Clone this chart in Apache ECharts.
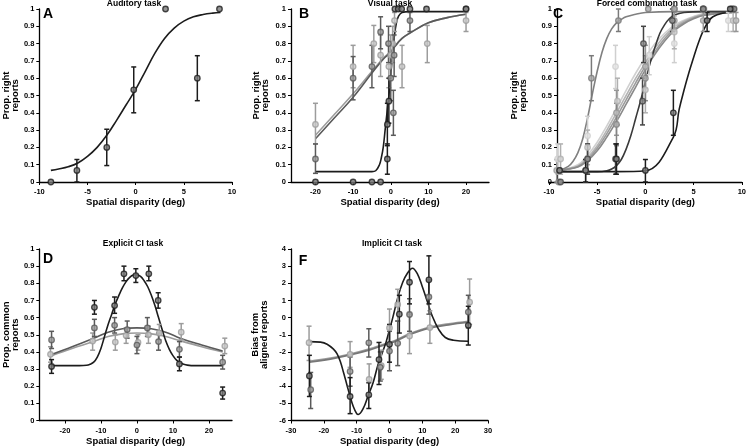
<!DOCTYPE html>
<html><head><meta charset="utf-8">
<script src="https://cdn.jsdelivr.net/npm/echarts@6/dist/echarts.min.js"></script>
<style>html,body{margin:0;padding:0;background:#fff}#c{width:749px;height:447px}</style>
</head><body><div id="c"></div>
<script>
// ---------- Panel A: Auditory task ----------
const aX  = [-8.8, -6.1, -3.0, -0.2, 3.1, 6.4, 8.7];
const aY  = [0, 0.067, 0.2, 0.533, 1, 0.6, 1];
const aLo = [null, 0, 0.095, 0.40, null, 0.47, null];
const aHi = [null, 0.13, 0.305, 0.665, null, 0.73, null];
const aFitX = [-8.8,-8,-7,-6,-5,-4,-3,-2,-1,0,1,2,3,4,5,6,7,8,8.8];
const aFitY = [0.067,0.075,0.088,0.11,0.148,0.2,0.27,0.355,0.445,0.535,0.64,0.745,0.83,0.89,0.93,0.955,0.968,0.976,0.98];

// ---------- Panel B: Visual task ----------
const bBlkX  = [-20,-10,-5,-2.7,-0.9,-0.9,-0.5,1.1,2.0,2.9,5.1,9.5,20];
const bBlkY  = [0,0,0,0,0.133,0.333,0.467,1,1,1,1,1,1];
const bBlkLo = [null,null,null,null,0.045,0.21,0.34,null,null,null,null,null,null];
const bBlkHi = [null,null,null,null,0.22,0.455,0.6,null,null,null,null,null,null];
const bDkX  = [-20,-10,-5,-2.7,-0.6,0,0.7,0.9,5.1,20];
const bDkY  = [0.133,0.6,0.667,0.867,0.8,0.6,0.4,0.733,0.933,1];
const bDkLo = [0.05,0.475,0.545,0.77,0.69,0.47,0.27,0.61,0.87,null];
const bDkHi = [0.22,0.725,0.79,0.955,0.9,0.73,0.53,0.85,0.98,null];
const bLtX  = [-20,-10,-4.5,-2.7,-0.5,0,0.5,1,3,9.7,20];
const bLtY  = [0.333,0.667,0.8,0.733,0.667,0.733,0.8,0.933,0.667,0.8,0.933];
const bLtLo = [0.22,0.545,0.69,0.61,0.545,0.61,0.69,0.87,0.545,0.69,0.87];
const bLtHi = [0.455,0.79,0.905,0.85,0.79,0.85,0.9,0.98,0.79,0.905,0.98];
const bBlkFitX = [-20,-10,-5,-4,-3,-2.5,-2,-1.5,-1,-0.5,0,0.5,1,1.5,2,3,5,10,20];
const bBlkFitY = [0.06,0.06,0.06,0.065,0.1,0.14,0.2,0.3,0.4,0.5,0.62,0.74,0.85,0.92,0.955,0.98,0.985,0.985,0.985];
const bGrFitX = [-20,-15,-10,-5,-2,0,1,3,5,10,15,20];
const bDkFitY = [0.25,0.37,0.49,0.63,0.71,0.75,0.78,0.83,0.86,0.92,0.95,0.97];
const bLtFitY = [0.27,0.39,0.51,0.64,0.715,0.755,0.785,0.83,0.86,0.92,0.95,0.97];

// ---------- Panel C: Forced combination task ----------
const cLeftX  = [-8.9,-5.6,-2.8,0.3,3,6,9];
const cLeftY  = [0.067,0.6,0.933,1,1,1,1];
const cLeftLo = [null,0.47,0.87,null,null,null,null];
const cLeftHi = [null,0.73,1.0,null,null,null,null];
const cBlkX  = [-8.9,-6.2,-3,0,2.9,6.4,8.8];
const cBlkY  = [0.067,0.067,0.133,0.067,0.4,0.933,1];
const cBlkLo = [null,0,0.045,0,0.27,0.87,null];
const cBlkHi = [null,0.13,0.22,0.13,0.53,0.98,null];
const cDkX  = [-8.8,-6,-3.1,-0.2,-0.3,2.8,6,9.2];
const cDkY  = [0,0.133,0.133,0.8,0.467,0.933,1,1];
const cDkLo = [null,0.045,0.045,0.69,0.33,0.87,null,null];
const cDkHi = [null,0.22,0.22,0.9,0.6,1.0,null,null];
const cLtX  = [-9.1,-6,-3.1,0.4,3,6.1,8.6];
const cLtY  = [0.133,0.267,0.667,0.733,0.8,1,0.933];
const cLtLo = [0.045,0.15,0.54,0.62,0.69,null,0.87];
const cLtHi = [0.22,0.38,0.79,0.84,0.9,null,0.98];
const cM1X  = [-8.8,-6,-2.9,0,3,6,9.1];
const cM1Y  = [0.133,0.2,0.467,0.533,0.867,1,0.933];
const cM1Lo = [0.045,0.1,0.33,0.4,0.77,null,0.87];
const cM1Hi = [0.22,0.3,0.6,0.665,0.96,null,0.98];
const cM2X  = [-9.2,-6,-3,0,3,6,9.4];
const cM2Y  = [0.067,0.133,0.4,0.667,0.933,0.933,0.933];
const cM2Lo = [0,0.045,0.27,0.54,0.87,0.87,0.87];
const cM2Hi = [0.13,0.22,0.53,0.79,0.98,0.98,0.98];
const cM3X  = [-9,-6.2,-3,0,3,6,9];
const cM3Y  = [0,0.067,0.333,0.6,1,1,1];
const cM3Lo = [null,0,0.21,0.47,null,null,null];
const cM3Hi = [null,0.13,0.455,0.73,null,null,null];
const cLeftFitX = [-8.8,-8,-7.5,-7,-6.5,-6,-5.5,-5,-4.5,-4,-3.5,-3,-2.5,-2,-1,0,3,6,9];
const cLeftFitY = [0.07,0.09,0.12,0.17,0.25,0.37,0.51,0.64,0.75,0.83,0.885,0.92,0.94,0.955,0.97,0.98,0.985,0.985,0.985];
const cBlkFitX = [-8.8,-6,-3,0,2.9,3.5,4,4.5,5,5.5,6,6.5,7,8,9];
const cBlkFitY = [0.06,0.06,0.06,0.065,0.26,0.42,0.53,0.63,0.72,0.805,0.875,0.925,0.955,0.975,0.98];
const cDkFitX = [-8.8,-5,-4,-3.5,-3,-2.5,-2,-1.5,-1,-0.5,0,0.5,1,1.5,2,2.5,3,4,6,9];
const cDkFitY = [0.06,0.06,0.065,0.075,0.095,0.13,0.19,0.27,0.37,0.47,0.58,0.69,0.78,0.86,0.91,0.945,0.965,0.98,0.985,0.985];
const cMidFitX = [-8.8,-7,-6,-5,-4,-3,-2,-1,0,1,2,3,4,5,6,9];
const cLtFitY = [0.07,0.1,0.155,0.23,0.325,0.425,0.53,0.63,0.72,0.8,0.86,0.905,0.935,0.957,0.972,0.985];
const cM1FitY = [0.07,0.092,0.14,0.21,0.3,0.4,0.5,0.6,0.69,0.775,0.845,0.895,0.93,0.952,0.968,0.985];
const cM2FitY = [0.07,0.09,0.13,0.195,0.28,0.375,0.475,0.575,0.67,0.755,0.83,0.885,0.922,0.948,0.965,0.985];
const cM3FitY = [0.07,0.087,0.123,0.18,0.26,0.35,0.45,0.55,0.65,0.74,0.815,0.875,0.915,0.943,0.962,0.985];

// ---------- Panel D: Explicit CI task ----------
const dBlkX  = [-23.7,-11.8,-6.2,-3.6,-0.3,3.3,5.9,11.8,23.8];
const dBlkY  = [0.315,0.66,0.67,0.855,0.845,0.855,0.70,0.33,0.16];
const dBlkLo = [0.275,0.62,0.625,0.815,0.805,0.815,0.655,0.29,0.125];
const dBlkHi = [0.355,0.70,0.72,0.90,0.885,0.90,0.745,0.37,0.195];
const dDkX  = [-23.7,-11.8,-6.2,-2.7,0,2.9,6,11.8,23.8];
const dDkY  = [0.47,0.54,0.555,0.53,0.44,0.54,0.46,0.415,0.34];
const dDkLo = [0.42,0.49,0.51,0.48,0.39,0.49,0.41,0.37,0.30];
const dDkHi = [0.52,0.59,0.60,0.58,0.49,0.60,0.51,0.46,0.38];
const dLtX  = [-24,-12.3,-6,-3,0.3,3.2,6.2,12.3,24.4];
const dLtY  = [0.386,0.463,0.457,0.496,0.455,0.50,0.51,0.515,0.434];
const dLtLo = [0.34,0.41,0.41,0.45,0.41,0.45,0.47,0.47,0.39];
const dLtHi = [0.43,0.51,0.50,0.54,0.50,0.55,0.56,0.565,0.48];
const dBlkFitX = [-23.7,-20,-16,-14,-13,-12,-11,-10,-9,-8,-7,-6,-5,-4,-3,-2,-1,0,1,2,3,4,5,6,7,8,9,10,11,12,13,14,16,20,23.8];
const dBlkFitY = [0.32,0.32,0.32,0.322,0.328,0.34,0.37,0.42,0.49,0.56,0.62,0.68,0.73,0.775,0.81,0.835,0.848,0.85,0.84,0.815,0.78,0.73,0.67,0.6,0.53,0.465,0.415,0.378,0.352,0.337,0.328,0.323,0.32,0.32,0.32];
const dGrFitX = [-23.7,-18,-12,-8,-4,0,4,8,12,18,23.8];
const dDkFitY = [0.385,0.43,0.48,0.515,0.535,0.54,0.535,0.515,0.48,0.44,0.405];
const dLtFitY = [0.378,0.42,0.46,0.49,0.505,0.51,0.505,0.49,0.465,0.43,0.40];

// ---------- Panel F: Implicit CI task ----------
const fBlkX  = [-24.4,-12,-6.3,-3.2,0,3,6.1,12,24];
const fBlkY  = [-3.4,-4.6,-4.5,-2.45,-1.56,0.2,2.06,2.2,-0.45];
const fBlkLo = [-4.6,-5.6,-5.3,-3.9,-2.6,-0.9,0.8,0.8,-1.6];
const fBlkHi = [-2.2,-3.5,-3.8,-1.45,-0.4,1.3,3.27,3.6,0.66];
const fDkX  = [-24,-12,-6.3,-2.8,0,2.5,6.1,12,24];
const fDkY  = [-4.2,-3.14,-1.47,-2.9,-1.95,-1.5,0.18,1.2,0.32];
const fDkLo = [-5.3,-4.0,-2.3,-3.7,-3.1,-2.8,-0.8,0.2,-0.6];
const fDkHi = [-3.2,-2.3,-0.65,-2.0,-0.8,-0.2,1.1,2.2,1.3];
const fLtX  = [-24.5,-12,-6.2,-2.5,0,2.5,6.1,12.3,24.4];
const fLtY  = [-1.46,-2.14,-3.6,-2.8,-0.6,0.76,-1.07,-0.58,0.9];
const fLtLo = [-2.5,-2.9,-4.6,-3.6,-1.7,-0.2,-2.1,-1.5,-0.4];
const fLtHi = [-0.5,-1.4,-2.7,-1.9,0.5,1.65,0.2,0.4,2.25];
const fBlkFitX = [-24.5,-21,-19,-17,-16,-15,-14,-13,-12,-11,-10,-9.5,-8,-6.5,-5,-3.5,-2,-1,0,1,2.5,4,5.5,7,8.5,10,11.5,13,15,17,19.5,24];
const fBlkFitY = [-1.4,-1.43,-1.55,-1.85,-2.1,-2.55,-3.2,-3.9,-4.6,-5.2,-5.6,-5.65,-5.3,-4.55,-3.8,-2.75,-1.95,-1.4,-0.7,0.0,1.15,2.05,2.6,2.88,2.55,1.8,0.95,0.1,-0.7,-1.16,-1.32,-1.38];
const fGrFitX = [-24.5,-18,-12,-6,-2,0,2,6,12,18,24];
const fDkFitY = [-2.6,-2.42,-2.18,-1.88,-1.62,-1.5,-1.36,-1.0,-0.62,-0.42,-0.27];
const fLtFitY = [-2.55,-2.37,-2.13,-1.83,-1.57,-1.45,-1.31,-0.95,-0.57,-0.37,-0.22];

// ---------- labels ----------
const titles = ['Auditory task','Visual task','Forced combination task','Explicit CI task','Implicit CI task'];
const letters = ['A','B','C','D','F'];
const xName = 'Spatial disparity (deg)';
const yNames = ['Prop. right\nreports','Prop. right\nreports','Prop. right\nreports','Prop. common\nreports','Bias from\naligned reports'];
const bTicks = [-20,-10,0,10,20];

// ---------- builders ----------
const FONT = '"Liberation Sans", Arial, sans-serif';
function curve(gi, xs, ys, color, w) {
  return {type:'line', xAxisIndex:gi, yAxisIndex:gi, data: xs.map((x,i)=>[x,ys[i]]),
    smooth:0.4, symbol:'none', silent:true,
    lineStyle:{color:color, width:w||1.5}, z:3};
}
function pts(gi, xs, ys, color, fill) {
  return {type:'scatter', xAxisIndex:gi, yAxisIndex:gi, data: xs.map((x,i)=>[x,ys[i]]),
    symbol:'circle', symbolSize:5.5, clip:false,
    itemStyle:{color:fill, borderColor:color, borderWidth:1.3}, z:6};
}
function errs(gi, xs, lo, hi, color) {
  const data = xs.map((x,i)=>[x, lo[i], hi[i]]).filter(d=>d[1]!=null && d[2]!=null);
  return {type:'custom', xAxisIndex:gi, yAxisIndex:gi, data:data, z:5, silent:true,
    encode:{x:0, y:[1,2]},
    renderItem:function(params, api){
      const x = api.value(0);
      const a = api.coord([x, api.value(1)]);
      const b = api.coord([x, api.value(2)]);
      const cw = 2.5;
      const st = {stroke:color, lineWidth:1.5};
      return {type:'group', children:[
        {type:'line', shape:{x1:a[0],y1:a[1],x2:b[0],y2:b[1]}, style:st},
        {type:'line', shape:{x1:a[0]-cw,y1:a[1],x2:a[0]+cw,y2:a[1]}, style:st},
        {type:'line', shape:{x1:b[0]-cw,y1:b[1],x2:b[0]+cw,y2:b[1]}, style:st}
      ]};
    }};
}
function group(gi, xs, ys, lo, hi, color, fill) {
  return [errs(gi, xs, lo, hi, color), pts(gi, xs, ys, color, fill)];
}

const axisCommon = {
  axisLine:{show:true, onZero:false, lineStyle:{color:'#000', width:1.3}},
  axisTick:{show:true, length:3, lineStyle:{color:'#000', width:1}},
  splitLine:{show:false},
  nameTextStyle:{color:'#000', fontSize:9.5, fontWeight:'bold', fontFamily:FONT, lineHeight:9}
};
function lbl(extra){ return Object.assign({color:'#000', fontSize:7.5, fontWeight:'bold', fontFamily:FONT, margin:6}, extra||{}); }
function xAx(gi, min, max, interval, custom) {
  const ax = Object.assign({}, axisCommon, {type:'value', gridIndex:gi, min:min, max:max,
    name:xName, nameLocation:'middle', nameGap:16,
    axisLabel:lbl({showMinLabel:true, showMaxLabel:true})});
  if (custom) {
    ax.axisLabel = lbl({customValues:custom});
    ax.axisTick = Object.assign({}, axisCommon.axisTick, {customValues:custom});
  } else ax.interval = interval;
  return ax;
}
function yAx(gi, min, max, interval, nameGap, offset) {
  return Object.assign({}, axisCommon, {type:'value', gridIndex:gi, min:min, max:max, interval:interval,
    name:yNames[gi], nameLocation:'middle', nameGap:nameGap, offset:offset||0,
    axisLabel:lbl({margin:5})});
}

const BLK='#1c1c1c', BLKF='#7a7a7a', DK='#5a5a5a', DKF='#9a9a9a', LT='#9c9c9c', LTF='#c8c8c8';

const series = [].concat(
  // A
  [curve(0, aFitX, aFitY, BLK, 1.6)], group(0, aX, aY, aLo, aHi, BLK, BLKF),
  // B
  [curve(1, bGrFitX, bLtFitY, LT, 1.6), curve(1, bGrFitX, bDkFitY, DK, 1.6), curve(1, bBlkFitX, bBlkFitY, BLK, 1.6)],
  group(1, bLtX, bLtY, bLtLo, bLtHi, LT, LTF),
  group(1, bDkX, bDkY, bDkLo, bDkHi, DK, DKF),
  group(1, bBlkX, bBlkY, bBlkLo, bBlkHi, BLK, BLKF),
  // C
  [curve(2, cMidFitX, cLtFitY, '#d0d0d0', 1.6), curve(2, cMidFitX, cM1FitY, '#b4b4b4', 1.6),
   curve(2, cMidFitX, cM2FitY, '#9c9c9c', 1.6), curve(2, cMidFitX, cM3FitY, '#8a8a8a', 1.6),
   curve(2, cLeftFitX, cLeftFitY, '#808080', 1.6), curve(2, cDkFitX, cDkFitY, '#3a3a3a', 1.6),
   curve(2, cBlkFitX, cBlkFitY, BLK, 1.6)],
  group(2, cLtX, cLtY, cLtLo, cLtHi, '#cfcfcf', '#e4e4e4'),
  group(2, cM1X, cM1Y, cM1Lo, cM1Hi, '#b0b0b0', '#d0d0d0'),
  group(2, cM2X, cM2Y, cM2Lo, cM2Hi, '#969696', '#bdbdbd'),
  group(2, cM3X, cM3Y, cM3Lo, cM3Hi, '#858585', '#b0b0b0'),
  group(2, cLeftX, cLeftY, cLeftLo, cLeftHi, '#7a7a7a', '#a8a8a8'),
  group(2, cDkX, cDkY, cDkLo, cDkHi, '#444', '#888'),
  group(2, cBlkX, cBlkY, cBlkLo, cBlkHi, BLK, BLKF),
  // D
  [curve(3, dGrFitX, dLtFitY, LT, 1.6), curve(3, dGrFitX, dDkFitY, DK, 1.6), curve(3, dBlkFitX, dBlkFitY, BLK, 1.6)],
  group(3, dLtX, dLtY, dLtLo, dLtHi, LT, LTF),
  group(3, dDkX, dDkY, dDkLo, dDkHi, DK, DKF),
  group(3, dBlkX, dBlkY, dBlkLo, dBlkHi, BLK, BLKF),
  // F
  [curve(4, fGrFitX, fLtFitY, LT, 1.8), curve(4, fGrFitX, fDkFitY, '#777', 1.8), curve(4, fBlkFitX, fBlkFitY, BLK, 1.6)],
  group(4, fLtX, fLtY, fLtLo, fLtHi, LT, LTF),
  group(4, fDkX, fDkY, fDkLo, fDkHi, DK, DKF),
  group(4, fBlkX, fBlkY, fBlkLo, fBlkHi, BLK, BLKF)
);

const titlePos = [[134,4],[390,4],[647,4],[133,244],[392,244]];
const letterPos = [[48,14],[304,14],[558,14],[48,259],[303,261]];
const graphics = [];
titles.forEach((t,i)=>graphics.push({type:'text', x:titlePos[i][0], y:titlePos[i][1], z:20,
  style:{text:t, font:'bold 8.5px '+FONT, fill:'#000', textAlign:'center', textVerticalAlign:'middle'}}));
letters.forEach((t,i)=>graphics.push({type:'text', x:letterPos[i][0], y:letterPos[i][1], z:20,
  style:{text:t, font:'bold 14px '+FONT, fill:'#000', textAlign:'center', textVerticalAlign:'middle'}}));

const option = {
  animation:false,
  backgroundColor:'#fff',
  grid:[
    {left:33, top:9, width:199, height:173},
    {left:291, top:9, width:198, height:173},
    {left:549, top:9, width:195, height:173},
    {left:32, top:249, width:200, height:173},
    {left:291, top:249, width:197, height:173}
  ],
  xAxis:[
    xAx(0, -10, 10, 5),
    xAx(1, -26.5, 26.1, null, bTicks),
    xAx(2, -10, 10, 5),
    xAx(3, -27.1, 26.4, null, bTicks),
    xAx(4, -30, 30, 10)
  ],
  yAxis:[
    yAx(0, 0, 1, 0.1, 18),
    yAx(1, 0, 1, 0.1, 21),
    yAx(2, 0, 1, 0.1, 29, -8),
    yAx(3, 0, 1, 0.1, 18),
    yAx(4, -6, 4, 1, 22)
  ],
  graphic: graphics,
  series: series
};
const chart = echarts.init(document.getElementById('c'), null, {renderer:'canvas'});
chart.setOption(option);
</script></body></html>
